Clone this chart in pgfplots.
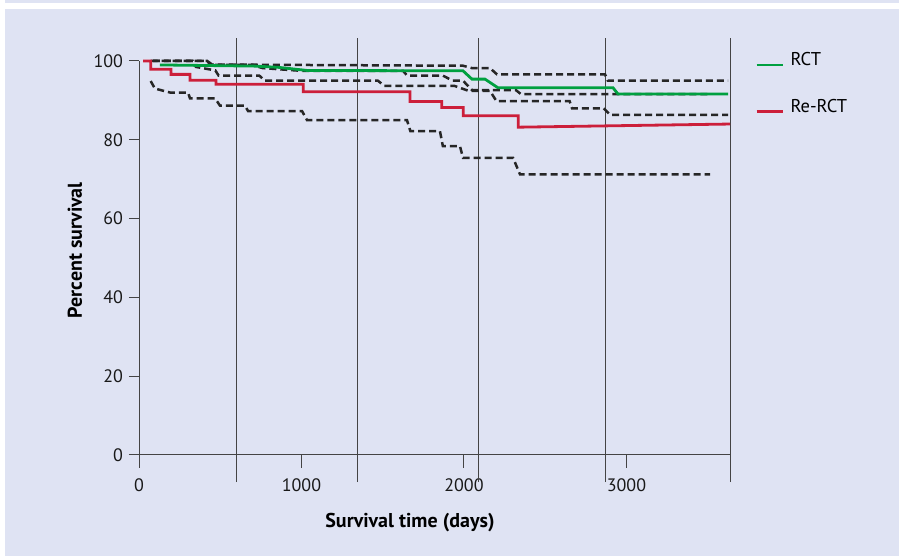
\documentclass[border=0pt]{standalone}
\usepackage{pgfplots}
\pgfplotsset{compat=1.18}
\usepackage{fontspec}
\setmainfont{PT Sans}
\definecolor{lav}{HTML}{DFE3F3}
\definecolor{rctgreen}{HTML}{00A040}
\definecolor{rctred}{HTML}{CC1F3A}
\definecolor{axgray}{HTML}{444444}
\begin{document}
\fontsize{17.5}{21}\selectfont
\begin{tikzpicture}
\fill[white] (0,0) rectangle (899pt,556pt);
\fill[lav] (5pt,0) rectangle (899pt,546.5pt);
\fill[lav] (5pt,553pt) rectangle (899pt,556pt);
\begin{axis}[
 at={(139pt,101pt)}, anchor=south west, scale only axis,
 width=591pt, height=394pt,
 xmin=0, xmax=3637, ymin=0, ymax=100,
 axis lines=left, axis line style={-, draw=axgray, line width=1pt},
 tick align=outside, major tick length=10pt,
 tick style={axgray, line width=1pt},
 xtick={0,1000,2000,3000}, ytick={0,20,40,60,80,100},
 /pgf/number format/assume math mode=true,
 /pgf/number format/1000 sep={},
 ticklabel style={font=\fontsize{18}{21}\selectfont, text=black!90},
 xticklabel style={yshift=-8pt},
 extra x ticks={0,1000,2000,3000}, extra x tick labels={},
 extra x tick style={major tick length=13pt},
 clip=false,
 xlabel={Survival time (days)}, ylabel={Percent survival},
 label style={font=\fontsize{20}{24}\selectfont\bfseries},
 xlabel style={at={(axis description cs:0.4585,-0.1726)}, anchor=center},
 ylabel style={at={(axis description cs:-0.1083,0.52)}, anchor=center},
 legend style={at={(axis cs:3791,102.8)}, anchor=north west, draw=none, fill=none,
   font=\fontsize{18.5}{22}\selectfont, row sep=27pt, inner sep=0pt,
   nodes={inner xsep=6.5pt}},
 legend image code/.code={\draw[#1] (0pt,-5pt) -- (26pt,-5pt);},
 legend cell align=left,
]
% vertical reference lines
\addplot[forget plot, axgray, line width=0.9pt] coordinates {(597,-6.9) (597,105.8)};
\addplot[forget plot, axgray, line width=0.9pt] coordinates {(1342,-6.9) (1342,105.8)};
\addplot[forget plot, axgray, line width=0.9pt] coordinates {(2092,-6.9) (2092,105.8)};
\addplot[forget plot, axgray, line width=0.9pt] coordinates {(2868,-6.9) (2868,105.8)};
\addplot[forget plot, axgray, line width=0.9pt] coordinates {(3637,-6.9) (3637,105.8)};
% confidence bands
\addplot[forget plot, black!85, line width=2.5pt, dash pattern=on 7pt off 4pt] coordinates {
(86,100)(420,100)(450,99.1)(1994,98.8)(2049,98.2)(2160,98.2)(2203,96.6)(2868,96.6)(2885,95.0)(3625,95.0)};
\addplot[forget plot, black!85, line width=2.5pt, dash pattern=on 7pt off 4pt] coordinates {
(86,100)(332,100)(350,98.5)(470,97.6)(490,96.3)(740,96.3)(775,95.0)(1470,95.0)(1510,93.7)(1940,93.7)(2030,92.4)(2160,92.4)(2200,89.8)(2650,89.8)(2665,88.0)(2860,88.0)(2900,86.3)(3625,86.3)};
\addplot[forget plot, black!85, line width=2.5pt, dash pattern=on 7pt off 4pt] coordinates {
(72,100)(420,100)(440,99.0)(700,99.0)(760,98.2)(1000,97.5)(1625,97.5)(1650,96.3)(1870,96.3)(1930,95.0)(1994,95.0)(2050,92.6)(2320,92.6)(2350,91.6)(3514,91.6)};
\addplot[forget plot, black!85, line width=2.5pt, dash pattern=on 7pt off 4pt] coordinates {
(72,94.9)(98,93.0)(191,92.0)(302,92.0)(314,90.5)(468,90.5)(498,88.7)(652,88.7)(671,87.3)(1003,87.3)(1034,85.0)(1649,85.0)(1670,82.2)(1852,82.2)(1870,78.4)(1975,78.4)(1994,75.4)(2302,75.4)(2345,71.2)(3514,71.2)};
% survival curves
\addplot[rctgreen, line width=2.8pt] coordinates {
(129,99.0)(714,98.7)(855,98.4)(1034,97.6)(1994,97.5)(2049,95.4)(2129,95.4)(2209,93.2)(2917,93.2)(2948,91.6)(3625,91.6)};
\addlegendentry{RCT}
\addplot[rctred, line width=2.8pt] coordinates {
(25,100)(72,100)(72,97.9)(197,97.9)(197,96.6)(314,96.6)(314,95.1)(474,95.1)(474,94.1)(1011,94.1)(1011,92.2)(1668,92.2)(1668,89.7)(1863,89.7)(1863,88.2)(1996,88.2)(1996,86.1)(2334,86.1)(2334,83.2)(3637,84.0)};
\addlegendentry{Re-RCT}
\end{axis}
\end{tikzpicture}
\end{document}
